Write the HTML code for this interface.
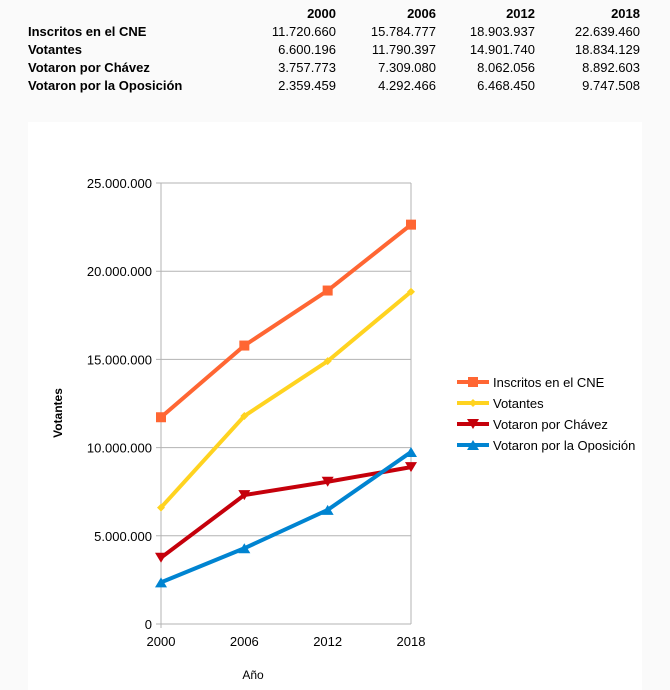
<!DOCTYPE html>
<html><head><meta charset="utf-8"><style>
body{margin:0;width:670px;height:690px;background:#fafafa;font-family:"Liberation Sans",sans-serif;position:relative;overflow:hidden}
table{position:absolute;left:28px;top:4px;border-collapse:collapse;font-size:13px;color:#000}
td{padding:0;height:18px;text-align:right}
td.l{text-align:left;font-weight:bold;width:210px}
th{font-weight:bold;text-align:right;height:18px;padding:0}
#panel{position:absolute;left:28px;top:122px;width:614px;height:568px;background:#fff}
svg{position:absolute;left:0;top:0}
</style></head><body>
<table>
<tr><th></th><th style="width:98px">2000</th><th style="width:100px">2006</th><th style="width:99px">2012</th><th style="width:105px">2018</th></tr>
<tr><td class="l">Inscritos en el CNE</td><td>11.720.660</td><td>15.784.777</td><td>18.903.937</td><td>22.639.460</td></tr>
<tr><td class="l">Votantes</td><td>6.600.196</td><td>11.790.397</td><td>14.901.740</td><td>18.834.129</td></tr>
<tr><td class="l">Votaron por Chávez</td><td>3.757.773</td><td>7.309.080</td><td>8.062.056</td><td>8.892.603</td></tr>
<tr><td class="l">Votaron por la Oposición</td><td>2.359.459</td><td>4.292.466</td><td>6.468.450</td><td>9.747.508</td></tr>
</table>
<div id="panel"></div>
<svg id="c" width="670" height="690"></svg>
<script>
const categories=["2000","2006","2012","2018"];
const inscritos=[11720660,15784777,18903937,22639460];
const votantes=[6600196,11790397,14901740,18834129];
const chavez=[3757773,7309080,8062056,8892603];
const oposicion=[2359459,4292466,6468450,9747508];
const yTicks=[0,5000000,10000000,15000000,20000000,25000000];
const yTickLabels=["0","5.000.000","10.000.000","15.000.000","20.000.000","25.000.000"];
const seriesNames=["Inscritos en el CNE","Votantes","Votaron por Chávez","Votaron por la Oposición"];
const NS="http://www.w3.org/2000/svg",svg=document.getElementById('c');
const X0=161,X1=411,Y0=624,Y1=183;
const x=i=>X0+i*(X1-X0)/(categories.length-1);
const y=v=>Y0-v/25000000*(Y0-Y1);
function mk(t,a,p){const e=document.createElementNS(NS,t);for(const k in a)e.setAttribute(k,a[k]);(p||svg).appendChild(e);return e;}
yTicks.forEach((v,i)=>{
 const g=mk('line',{x1:X0-5,x2:X1,y1:y(v),y2:y(v),stroke:'#b3b3b3','stroke-width':1});
 
 const t=mk('text',{x:X0-9,y:y(v)+5,'text-anchor':'end','font-size':13,fill:'#000'});
 t.textContent=yTickLabels[i];
});
mk('line',{x1:X0,x2:X0,y1:Y1,y2:Y0+4,stroke:'#b3b3b3'});
mk('line',{x1:X1,x2:X1,y1:Y1,y2:Y0,stroke:'#b3b3b3'});
categories.forEach((c,i)=>{
 const t=mk('text',{x:x(i),y:Y0+22,'text-anchor':'middle','font-size':13});
 t.textContent=c;
});
let t=mk('text',{x:253,y:679,'text-anchor':'middle','font-size':12});
t.textContent='Año';
t=mk('text',{x:0,y:0,'text-anchor':'middle','font-size':12,'font-weight':'bold',transform:'translate(62,413) rotate(-90)'});
t.textContent='Votantes';
const data=[inscritos,votantes,chavez,oposicion],colors=['#ff6633','#ffd320','#c5000b','#0084d1'],shapes=['sq','dia','dn','up'];
function marker(s,cx,cy,col,p){
 let pts;
 if(s=='sq')return mk('rect',{x:cx-5,y:cy-5,width:10,height:10,fill:col},p);
 if(s=='dia')pts=[[0,-4],[4,0],[0,4],[-4,0]];
 if(s=='dn')pts=[[-6,-5],[6,-5],[0,5]];
 if(s=='up')pts=[[-6,5],[6,5],[0,-5]];
 return mk('polygon',{points:pts.map(q=>(cx+q[0])+','+(cy+q[1])).join(' '),fill:col},p);
}
data.forEach((d,si)=>{
 const g=mk('g',{});
 mk('polyline',{points:d.map((v,i)=>x(i)+','+y(v)).join(' '),fill:'none',stroke:colors[si],'stroke-width':4},g);
 d.forEach((v,i)=>{const m=marker(shapes[si],x(i),y(v),colors[si],g);});
 const ly=382+si*21;
 const lg=mk('g',{});
 mk('line',{x1:457,x2:489,y1:ly,y2:ly,stroke:colors[si],'stroke-width':4},lg);
 marker(shapes[si],473,ly,colors[si],lg);
 const lt=mk('text',{x:493,y:ly+5,'font-size':13,fill:'#000'},lg);lt.textContent=seriesNames[si];
});
</script>
</body></html>
